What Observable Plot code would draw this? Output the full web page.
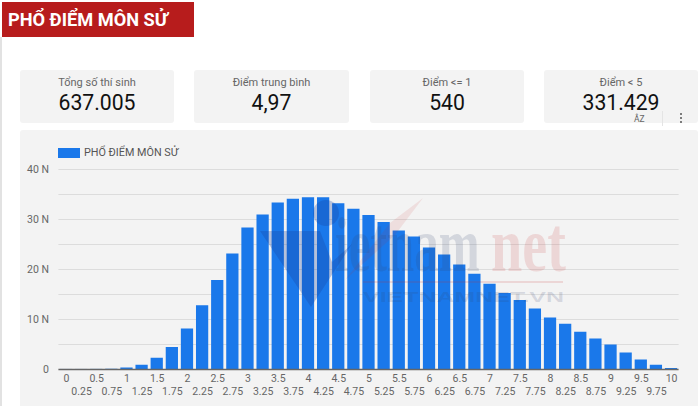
<!DOCTYPE html>
<html lang="vi">
<head>
<meta charset="utf-8">
<script src="https://cdn.jsdelivr.net/npm/d3@7"></script>
<script src="https://cdn.jsdelivr.net/npm/@observablehq/plot@0.6"></script>
<style>
html,body{margin:0;padding:0;background:#fff;width:700px;height:406px;overflow:hidden;font-family:Roboto,sans-serif}
#page{position:relative;width:700px;height:406px;overflow:hidden}
#stripe{position:absolute;left:0;top:37px;width:2px;height:369px;background:#e2e2e2}
#banner{position:absolute;left:2px;top:2px;width:192px;height:35px;background:#b71c1c;color:#fff;font-weight:700;font-size:18.2px;line-height:35px;padding-left:6px;box-sizing:border-box;white-space:nowrap}
.card{position:absolute;top:70px;height:53px;background:#f3f3f3;border-radius:3px;text-align:center}
.card .l{font-size:11px;color:#666;margin-top:6px;line-height:13px}
.card .v{font-size:21.2px;color:#111;line-height:21px;margin-top:3px}
#panel{position:absolute;left:20px;top:130px;width:678px;height:276px;background:#f3f3f3;border-radius:3px 3px 0 0}
#swatch{position:absolute;left:58px;top:148px;width:22px;height:10px;background:#1a78ea}
#legend{position:absolute;left:84px;top:146px;font-size:10.8px;line-height:14px;color:#555;white-space:nowrap}
#chart{position:absolute;left:0;top:0}
#chart svg{background:transparent;display:block}
#wm{position:absolute;left:0;top:0;pointer-events:none}
#tools{position:absolute;left:634px;top:114px;font-size:8.5px;color:#666;line-height:10px}
#dots{position:absolute;left:680px;top:113px;width:3px}
#dots i{display:block;width:2.4px;height:2.4px;border-radius:50%;background:#555;margin-bottom:1.6px}
#sep{position:absolute;left:662px;top:111px;width:1px;height:15px;background:#e4e4e4}
</style>
</head>
<body>
<div id="page">
  <div id="stripe"></div>
  <div id="banner"></div>
  <div id="cards"></div>
  <div id="panel"></div>
  <div id="swatch"></div>
  <div id="legend"></div>
  <div id="chart"></div>
  <svg id="wm" width="700" height="406" xmlns="http://www.w3.org/2000/svg">
    <polygon points="260,231 320,231 332,262 352,244 311,307" fill="#1a3f9a" fill-opacity="0.28"/>
    <circle cx="326" cy="213" r="13" fill="#1a3f9a" fill-opacity="0.28"/>
    <polygon points="423,198 390,223 345,280 395,235" fill="#c62828" fill-opacity="0.10"/>
    <text transform="translate(335,271) scale(0.63,1)" font-family="Liberation Serif" font-weight="700" font-size="78" fill="#33456e" fill-opacity="0.17">ietnam</text>
    <text transform="translate(491,271) scale(0.72,1)" font-family="Liberation Serif" font-weight="700" font-size="78" fill="#c62828" fill-opacity="0.14">net</text>
    <rect x="363" y="281" width="200" height="2" fill="#c62828" fill-opacity="0.14"/>
    <text x="363" y="302" font-family="Liberation Sans" font-weight="700" font-size="15" textLength="201" lengthAdjust="spacingAndGlyphs" fill="#33456e" fill-opacity="0.17">VIETNAMNET.VN</text>
  </svg>
  <div id="tools">ÂZ</div>
  <div id="sep"></div>
  <div id="dots"><i></i><i></i><i></i></div>
</div>
<script>
const titleText = "PHỔ ĐIỂM MÔN SỬ";
const cardLabels = ["Tổng số thí sinh", "Điểm trung bình", "Điểm <= 1", "Điểm < 5"];
const cardValues = ["637.005", "4,97", "540", "331.429"];
const cardLefts = [20, 194, 370, 544];
const cardWidths = [154, 155, 154, 154];

const scoreLabels = ["0","0.25","0.5","0.75","1","1.25","1.5","1.75","2","2.25","2.5","2.75","3","3.25","3.5","3.75","4","4.25","4.5","4.75","5","5.25","5.5","5.75","6","6.25","6.5","6.75","7","7.25","7.5","7.75","8","8.25","8.5","8.75","9","9.25","9.5","9.75","10"];
// thousands of candidates ("N" = nghìn)
const counts = [0.01,0.01,0.02,0.05,0.3,0.85,2.25,4.4,8.1,12.75,17.8,23.1,28.3,30.9,33.3,34.05,34.35,34.35,33.15,32.05,30.8,29.4,27.7,26.5,24.3,22.9,20.9,19.05,17.05,15.2,13.8,12.1,10.3,9.05,7.45,6.1,4.9,3.3,1.9,0.85,0.2];
const yLabelTicks = [0,10,20,30,40];
const yGridTicks = [5,10,15,20,25,30,35,40];
const firstRowTicks = scoreLabels.filter((_, i) => i % 2 === 0);
const secondRowTicks = scoreLabels.filter((_, i) => i % 2 === 1);

document.getElementById("banner").textContent = titleText;
document.getElementById("legend").textContent = titleText;
const cards = document.getElementById("cards");
cardLabels.forEach((label, i) => {
  const c = document.createElement("div");
  c.className = "card";
  c.style.left = cardLefts[i] + "px";
  c.style.width = cardWidths[i] + "px";
  const l = document.createElement("div"); l.className = "l"; l.textContent = label;
  const v = document.createElement("div"); v.className = "v"; v.textContent = cardValues[i];
  c.append(l, v);
  cards.append(c);
});

const table = scoreLabels.map((s, i) => ({score: s, count: counts[i]}));
const axisStyle = {fontSize: 10.5, color: "#666", tickSize: 0, label: null};
const chart = Plot.plot({
  width: 700,
  height: 406,
  marginLeft: 58.4,
  marginRight: 21.4,
  marginTop: 169,
  marginBottom: 37,
  style: {background: "transparent", fontFamily: "Roboto, sans-serif", overflow: "visible"},
  x: {type: "band", domain: scoreLabels, round: false, paddingInner: 0.19, paddingOuter: 0.095, axis: null},
  y: {domain: [0, 40], axis: null},
  marks: [
    Plot.gridY(yGridTicks, {stroke: "#dcdcdc", strokeOpacity: 1, strokeWidth: 1}),
    Plot.barY(table, {x: "score", y: "count", fill: "#1a78ea"}),
    Plot.ruleY([0], {stroke: "#666", strokeWidth: 1.4}),
    Plot.axisY(yLabelTicks, {...axisStyle, tickPadding: 10, tickFormat: d => d === 0 ? "0" : d + " N"}),
    Plot.axisX(firstRowTicks, {...axisStyle, anchor: "bottom", tickPadding: 5.5}),
    Plot.axisX(secondRowTicks, {...axisStyle, anchor: "bottom", tickPadding: 18.5})
  ]
});
document.getElementById("chart").append(chart);
</script>
</body>
</html>
